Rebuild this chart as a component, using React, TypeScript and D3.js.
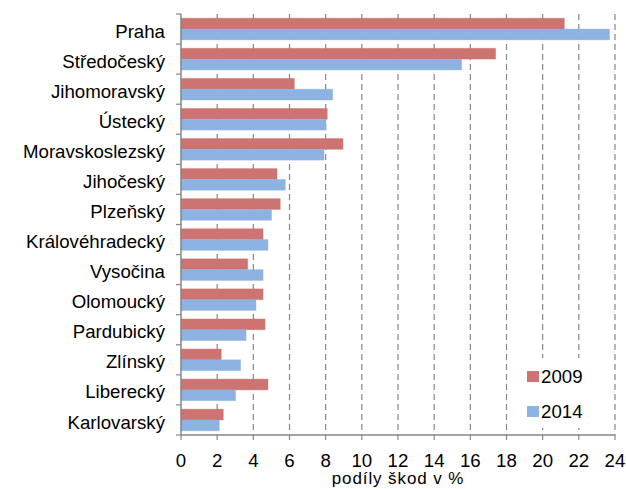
import React from "react";
import * as d3 from "d3";

const categories = [
  "Praha", "Středočeský", "Jihomoravský", "Ústecký", "Moravskoslezský",
  "Jihočeský", "Plzeňský", "Královéhradecký", "Vysočina", "Olomoucký",
  "Pardubický", "Zlínský", "Liberecký", "Karlovarský",
];
const values2009 = [21.2, 17.4, 6.27, 8.09, 8.96, 5.31, 5.49, 4.54, 3.69, 4.54, 4.65, 2.23, 4.81, 2.34];
const values2014 = [23.7, 15.52, 8.39, 8.02, 7.91, 5.77, 5.01, 4.81, 4.54, 4.15, 3.6, 3.3, 3.02, 2.12];
const seriesNames = ["2009", "2014"];
const xTicks = [0, 2, 4, 6, 8, 10, 12, 14, 16, 18, 20, 22, 24];
const xTitle = "podíly škod v %";

const W = 626, H = 489;
const left = 181, right = 615, top = 14, bottom = 435;
const colors = ["#CD7371", "#8DB3E2"];
const font = "'Liberation Sans', Arial, sans-serif";
const fs = 18.67;

export default function App() {
  const x = d3.scaleLinear().domain([0, 24]).range([left, right]);
  const y = d3.scaleBand().domain(categories).range([top, bottom]).paddingInner(0.28).paddingOuter(0.14);
  const sub = d3.scaleBand().domain(seriesNames).range([0, y.bandwidth()]);
  const series = [values2009, values2014];
  const step = (bottom - top) / categories.length;
  return (
    <svg width={W} height={H} style={{ position: "absolute", left: 0, top: 0 }}>
      <rect x={0} y={0} width={W} height={H} fill="#fff" />
      {xTicks.slice(1).map((t) => (
        <line key={"g" + t} x1={x(t)} x2={x(t)} y1={top} y2={bottom} stroke="#868686" strokeWidth={1.2} strokeDasharray="6,4" />
      ))}
      {categories.map((c, i) =>
        series.map((vals, s) => (
          <rect key={c + s} x={x(0)} y={(y(c) as number) + (sub(seriesNames[s]) as number)}
            width={x(vals[i]) - x(0)} height={sub.bandwidth()} fill={colors[s]}
            stroke={colors[s]} strokeOpacity={0.35} strokeWidth={1} />
        ))
      )}
      {/* legend */}
      <rect x={521} y={358} width={80} height={70} fill="#fff" />
      {seriesNames.map((n, s) => (
        <g key={n}>
          <rect x={527} y={371 + s * 35} width={12} height={11} fill={colors[s]} />
          <text x={541} y={376 + s * 35} dy="0.35em" fontFamily={font} fontSize={fs} fill="#000">{n}</text>
        </g>
      ))}
      {/* axes */}
      <line x1={left} x2={left} y1={top} y2={bottom} stroke="#868686" strokeWidth={1.5} />
      <line x1={left} x2={right} y1={bottom} y2={bottom} stroke="#868686" strokeWidth={1.5} />
      {d3.range(categories.length + 1).map((i) => (
        <line key={"yt" + i} x1={left - 5} x2={left} y1={top + i * step} y2={top + i * step} stroke="#868686" strokeWidth={1.2} />
      ))}
      {xTicks.map((t) => (
        <line key={"xt" + t} x1={x(t)} x2={x(t)} y1={bottom} y2={bottom + 5} stroke="#868686" strokeWidth={1.2} />
      ))}
      {categories.map((c) => (
        <text key={"l" + c} x={165} y={(y(c) as number) + y.bandwidth() / 2} dy="0.46em" textAnchor="end"
          fontFamily={font} fontSize={fs} fill="#000">{c}</text>
      ))}
      {xTicks.map((t) => (
        <text key={"xl" + t} x={x(t)} y={460} dy="0.35em" textAnchor="middle" fontFamily={font} fontSize={fs} fill="#000">{t}</text>
      ))}
      <text x={(left + right) / 2} y={483.5} textAnchor="middle" fontFamily={font} fontSize={17} letterSpacing={0.9} fill="#000">{xTitle}</text>
    </svg>
  );
}
